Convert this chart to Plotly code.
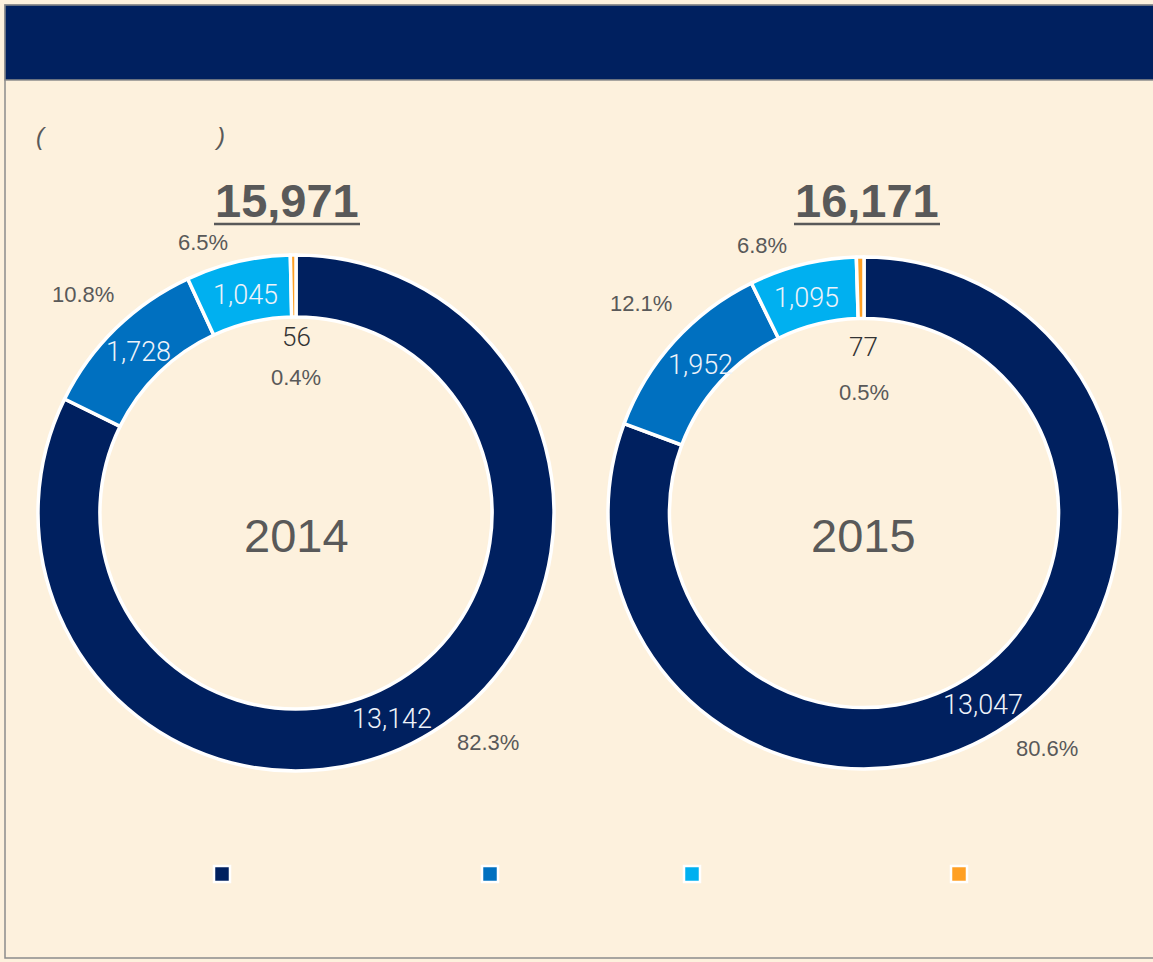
import math
import plotly.graph_objects as go

# ---------------- data ----------------
years = ["2014", "2015"]
totals = ["15,971", "16,171"]
categories = ["A", "B", "C", "D"]
values_2014 = [13142, 1728, 1045, 56]
values_2015 = [13047, 1952, 1095, 77]
pct_2014 = ["82.3%", "10.8%", "6.5%", "0.4%"]
pct_2015 = ["80.6%", "12.1%", "6.8%", "0.5%"]

colors = ["#00205F", "#0070C0", "#00B0F0", "#FFA024"]

# ---------------- layout constants ----------------
W, H = 1153, 962
BG = "#FDF1DD"
NAVY = "#00205F"
GRAY = "#595959"

charts = [
    dict(values=values_2014, pct=pct_2014, year=years[0], total=totals[0],
         cx=296, cy=513, R=258, title_x=287,
         val_off=[7, 0, 0], val_r=[227, 225, 224], pct_off=[-8, 0, -6], pct_r=[299, 305, 286],
         small_val_r=176, small_pct_r=136),
    dict(values=values_2015, pct=pct_2015, year=years[1], total=totals[1],
         cx=864, cy=513, R=256, title_x=867,
         val_off=[3, 0, -1], val_r=[226, 221, 223], pct_off=[-3, 1, -7], pct_r=[298, 306, 286],
         small_val_r=166, small_pct_r=121),
]

fig = go.Figure()
annotations = []
shapes = [
    dict(type="rect", xref="paper", yref="paper", x0=5 / W, x1=1.01, y0=1 - 958 / H, y1=1 - 5 / H,
         line=dict(color="#8C8C8C", width=1.5), fillcolor=BG, layer="below"),
    dict(type="rect", xref="paper", yref="paper", x0=5 / W, x1=1.01, y0=1 - 80 / H, y1=1 - 5 / H,
         line=dict(color="#8C8C8C", width=1.5), fillcolor=NAVY, layer="below"),
]


def polar_to_paper(cx, cy, ang, r):
    x = cx + r * math.sin(math.radians(ang))
    y = cy - r * math.cos(math.radians(ang))
    return x / W, 1 - y / H


def ann(x, y, text, font):
    return dict(x=x, y=y, xref="paper", yref="paper", showarrow=False,
                xanchor="center", yanchor="middle", text=text, font=font)


VAL_FONT = dict(family="Roboto", size=27, color="#EEF3FA", weight=300)
PCT_FONT = dict(family="Liberation Sans", size=22, color=GRAY)

for c in charts:
    cx, cy, R = c["cx"], c["cy"], c["R"]
    fig.add_trace(go.Pie(
        values=c["values"], labels=categories, sort=False,
        direction="clockwise", rotation=0, hole=0.76,
        marker=dict(colors=colors, line=dict(color="white", width=3.5)),
        textinfo="none", hoverinfo="label+value+percent", showlegend=False,
        domain=dict(x=[(cx - R) / W, (cx + R) / W], y=[1 - (cy + R) / H, 1 - (cy - R) / H]),
    ))
    total = sum(c["values"])
    cum = 0
    mids = []
    for v in c["values"]:
        mids.append((cum + v / 2) / total * 360)
        cum += v
    for i in range(3):
        x, y = polar_to_paper(cx, cy, mids[i] + c["val_off"][i], c["val_r"][i])
        annotations.append(ann(x, y, f"{c['values'][i]:,}", VAL_FONT))
        x, y = polar_to_paper(cx, cy, mids[i] + c["pct_off"][i], c["pct_r"][i])
        annotations.append(ann(x, y, c["pct"][i], PCT_FONT))
    x, y = polar_to_paper(cx, cy, 0, c["small_val_r"])
    annotations.append(ann(x, y, f"{c['values'][3]:,}", dict(VAL_FONT, color="#333333", size=26)))
    x, y = polar_to_paper(cx, cy, 0, c["small_pct_r"])
    annotations.append(ann(x, y, c["pct"][3], PCT_FONT))
    annotations.append(ann(cx / W, 1 - (cy + 22) / H, c["year"],
                           dict(family="Liberation Sans", size=47, color=GRAY)))
    annotations.append(ann(c["title_x"] / W, 1 - 200 / H, f"<b>{c['total']}</b>",
                           dict(family="Liberation Sans", size=47, color=GRAY)))
    shapes.append(dict(type="line", xref="paper", yref="paper",
                       x0=(c["title_x"] - 73) / W, x1=(c["title_x"] + 73) / W,
                       y0=1 - 224 / H, y1=1 - 224 / H, line=dict(color=GRAY, width=2.5)))

annotations.append(ann(42 / W, 1 - 136 / H, "<i>(</i>",
                       dict(family="Liberation Sans", size=24, color=GRAY)))
annotations.append(ann(219 / W, 1 - 136 / H, "<i>)</i>",
                       dict(family="Liberation Sans", size=24, color=GRAY)))

legend_x = [222, 490, 692, 959]
for lx, col in zip(legend_x, colors):
    shapes.append(dict(type="rect", xref="paper", yref="paper",
                       x0=(lx - 8) / W, x1=(lx + 8) / W, y0=1 - (874 + 8) / H, y1=1 - (874 - 8) / H,
                       line=dict(color="white", width=2.5), fillcolor=col))

fig.update_layout(
    width=W, height=H,
    margin=dict(l=0, r=0, t=0, b=0),
    paper_bgcolor=BG, plot_bgcolor=BG,
    annotations=annotations, shapes=shapes,
    showlegend=False,
)

fig.write_html("out.html", config={"displayModeBar": False},
               post_script="document.body.style.margin='0';document.body.style.overflow='hidden';")
